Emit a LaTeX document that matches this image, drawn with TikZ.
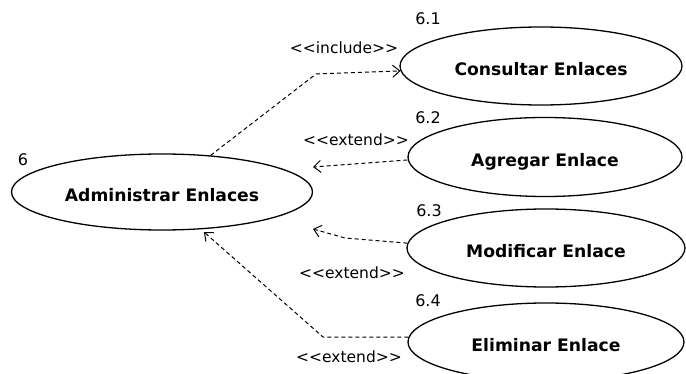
\documentclass[tikz,border=0pt]{standalone}
\usepackage{fontspec}
\setmainfont{DejaVu Sans}
\usetikzlibrary{shapes.geometric,arrows.meta}
\begin{document}
\begin{tikzpicture}[x=1pt,y=-1pt,
  usecase/.style={ellipse,draw,line width=1.3pt,inner sep=0pt,
    font=\fontsize{17.2}{20}\selectfont\bfseries,text height=20pt,text depth=0pt},
  dep/.style={draw,line width=1pt,dash pattern=on 4pt off 3pt,
    -{Straight Barb[length=7pt,width=12pt,line width=1pt]}},
  stereo/.style={font=\fontsize{15.5}{18}\selectfont,inner sep=0pt},
  num/.style={font=\fontsize{16}{18}\selectfont,inner sep=0pt}]
\useasboundingbox[fill=white] (0,0) rectangle (686,374);

% use cases
\node[usecase,minimum width=301pt,minimum height=76pt] (adm) at (162,192) {Administrar Enlaces};
\node[usecase,minimum width=282pt,minimum height=78pt] (con) at (541,66) {Consultar Enlaces};
\node[usecase,minimum width=274pt,minimum height=79pt] (agr) at (545,157) {Agregar Enlace};
\node[usecase,minimum width=278pt,minimum height=78pt] (mod) at (546,248) {Modificar Enlace};
\node[usecase,minimum width=276pt,minimum height=78pt] (eli) at (546,342) {Eliminar Enlace};

% identifiers
\node[num] (n6) at (23,160) {6};
\node[num] (n61) at (428,19) {6.1};
\node[num] (n62) at (428,118) {6.2};
\node[num] (n63) at (429,211) {6.3};
\node[num] (n64) at (428,301) {6.4};

% bend points and arrow tips
\coordinate (b1) at (316,74);
\coordinate (t2) at (313,167);
\coordinate (b3) at (345,238);
\coordinate (t3) at (313,229);
\coordinate (b4) at (323,337);
\coordinate (t4) at (204,232);

% relationships
\draw[dep] (adm.37.6) -- (b1) -- (con.182);
\draw[dep] (agr.west) ++(0,3) -- (t2);
\draw[dep] (mod.178) -- (b3) -- (t3);
\draw[dep] (eli.178) -- (b4) -- (t4);

% stereotypes
\node[stereo] (s1) at (344,48) {<{}<include>{}>};
\node[stereo] (s2) at (356,140) {<{}<extend>{}>};
\node[stereo] (s3) at (352,273) {<{}<extend>{}>};
\node[stereo] (s4) at (349,357) {<{}<extend>{}>};
\end{tikzpicture}
\end{document}
